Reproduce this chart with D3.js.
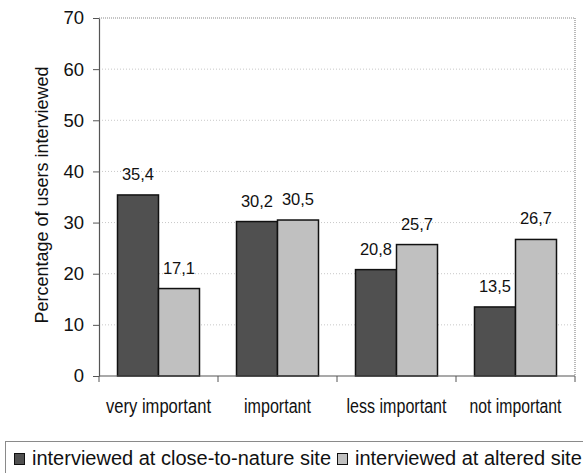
<!DOCTYPE html>
<html>
<head>
<meta charset="utf-8">
<script src="https://cdn.jsdelivr.net/npm/d3@7"></script>
<style>
  html, body { margin: 0; padding: 0; background: #fff; }
  svg { display: block; font-family: "Liberation Sans", Arial, sans-serif; }
</style>
</head>
<body>
<svg id="chart" width="583" height="473"></svg>
<script>
// Importance categories and survey shares (%) per interview site
const categories = ["very important", "important", "less important", "not important"];
const closeToNature = [35.4, 30.2, 20.8, 13.5];
const alteredSite = [17.1, 30.5, 25.7, 26.7];
const seriesNames = ["interviewed at close-to-nature site", "interviewed at altered site"];
const yTicks = [0, 10, 20, 30, 40, 50, 60, 70];

const fmt = v => v.toFixed(1).replace(".", ",");
const colors = ["#505050", "#c0c0c0"];

const svg = d3.select("#chart");
const m = { left: 99, right: 8, top: 18, bottom: 97 };
const W = 583, H = 473;
const iw = W - m.left - m.right, ih = H - m.top - m.bottom;

const x = d3.scaleBand().domain(categories).range([0, iw]).paddingInner(0).paddingOuter(0);
const xs = d3.scaleBand().domain([0, 1]).range([18.5, x.bandwidth() - 18.5]).padding(0);
const y = d3.scaleLinear().domain([0, 70]).range([ih, 0]);

const g = svg.append("g").attr("transform", `translate(${m.left},${m.top})`);

// dotted gridlines
g.append("g").selectAll("line").data(yTicks.filter(t => t > 0 && t < 70)).join("line")
  .attr("x1", 0).attr("x2", iw).attr("y1", d => y(d)).attr("y2", d => y(d))
  .attr("stroke", "#c8c8c8").attr("stroke-width", 1).attr("stroke-dasharray", "1,2");

// top and right frame (dotted)
g.append("path").attr("d", `M0,${y(70)}H${iw}V${ih}`)
  .attr("fill", "none").attr("stroke", "#8a8a8a").attr("stroke-width", 1.2).attr("stroke-dasharray", "1,1");

// bars with value labels
const series = [closeToNature, alteredSite];
series.forEach((vals, si) => {
  g.append("g").selectAll("rect").data(categories).join("rect")
    .attr("x", (c) => x(c) + xs(si))
    .attr("width", xs.bandwidth())
    .attr("y", (c, i) => y(vals[i]))
    .attr("height", (c, i) => ih - y(vals[i]))
    .attr("fill", colors[si]).attr("stroke", "#111").attr("stroke-width", 1.5);
  g.append("g").selectAll("text").data(categories).join("text")
    .attr("x", (c) => x(c) + xs(si) + xs.bandwidth() / 2)
    .attr("y", (c, i) => y(vals[i]) - 15)
    .attr("text-anchor", "middle").attr("font-size", 16.5).attr("fill", "#111")
    .text((c, i) => fmt(vals[i]));
});

// y axis
const yAxis = d3.axisLeft(y).tickValues(yTicks).tickSize(6).tickSizeOuter(0).tickPadding(9);
const ya = g.append("g").call(yAxis);
ya.select(".domain").attr("stroke", "#555").attr("stroke-width", 1.2);
ya.selectAll(".tick line").attr("stroke", "#555");
ya.selectAll(".tick text").attr("font-size", 18.5).attr("fill", "#111")
  .attr("font-family", "Liberation Sans, Arial, sans-serif");

// x axis with ticks at category boundaries; labels set in a condensed width
const labelWidths = [105, 67, 100, 92];
const xa = g.append("g").attr("transform", `translate(0,${ih})`);
xa.append("line").attr("x1", 0).attr("x2", iw).attr("stroke", "#555").attr("stroke-width", 1.2);
xa.selectAll("line.b").data(d3.range(categories.length + 1)).join("line").attr("class", "b")
  .attr("x1", i => i * x.step()).attr("x2", i => i * x.step())
  .attr("y1", 0).attr("y2", 6).attr("stroke", "#555");
xa.selectAll("text").data(categories).join("text")
  .attr("x", c => x(c) + x.bandwidth() / 2).attr("y", 37)
  .attr("text-anchor", "middle").attr("font-size", 20).attr("fill", "#111")
  .attr("textLength", (c, i) => labelWidths[i]).attr("lengthAdjust", "spacingAndGlyphs")
  .text(c => c);

// y axis title
svg.append("text")
  .attr("transform", `translate(48,${195}) rotate(-90)`)
  .attr("text-anchor", "middle").attr("font-size", 18).attr("fill", "#111")
  .text("Percentage of users interviewed");

// legend (box runs past the right edge)
const lg = svg.append("g");
lg.append("rect").attr("x", 5.5).attr("y", 441.5).attr("width", 600).attr("height", 40)
  .attr("fill", "#fff").attr("stroke", "#8a8a8a").attr("stroke-width", 1);
const legendX = [14.5, 337.5];
seriesNames.forEach((name, i) => {
  lg.append("rect").attr("x", legendX[i]).attr("y", 453.5).attr("width", 10).attr("height", 11)
    .attr("fill", colors[i]).attr("stroke", "#111").attr("stroke-width", 1);
  lg.append("text").attr("x", legendX[i] + 17.5).attr("y", 465)
    .attr("font-size", 20).attr("fill", "#111").text(name);
});
</script>
</body>
</html>
